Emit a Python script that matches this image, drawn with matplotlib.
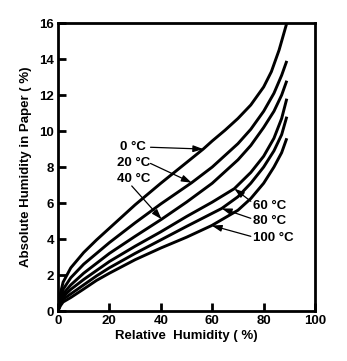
import matplotlib
matplotlib.use("Agg")
import matplotlib.pyplot as plt

plt.rcParams['font.family'] = ['Liberation Sans', 'DejaVu Sans']
plt.rcParams['font.weight'] = 'bold'

# relative humidity (%) and absolute humidity in paper (%) per temperature
rh_0 = [0, 1, 2, 5, 10, 15, 20, 30, 40, 50, 56.5, 60, 65, 70, 75, 80, 83, 86, 89]
ah_0 = [0, 1.0, 1.6, 2.4, 3.25, 3.95, 4.6, 5.9, 7.1, 8.25, 9.0, 9.45, 10.05, 10.7, 11.45, 12.45, 13.3, 14.5, 16.0]

rh_20 = [0, 1, 2, 5, 10, 15, 20, 30, 40, 52, 60, 70, 75, 80, 84, 87, 89]
ah_20 = [0, 0.75, 1.2, 1.85, 2.6, 3.2, 3.8, 4.9, 5.95, 7.13, 8.0, 9.3, 10.1, 11.1, 12.1, 13.1, 13.9]

rh_40 = [0, 1, 2, 5, 10, 15, 20, 30, 40.3, 50, 60, 70, 75, 80, 84, 87, 89]
ah_40 = [0, 0.6, 0.95, 1.45, 2.1, 2.65, 3.2, 4.15, 5.1, 6.05, 7.1, 8.4, 9.2, 10.2, 11.1, 12.0, 12.8]

rh_60 = [0, 1, 2, 5, 10, 15, 20, 30, 40, 50, 60, 68.6, 75, 80, 84, 87, 89]
ah_60 = [0, 0.5, 0.8, 1.2, 1.75, 2.25, 2.75, 3.6, 4.4, 5.25, 6.05, 6.8, 7.7, 8.6, 9.6, 10.7, 11.8]

rh_80 = [0, 1, 2, 5, 10, 15, 20, 30, 40, 50, 63.7, 70, 75, 80, 84, 87, 89]
ah_80 = [0, 0.4, 0.65, 0.95, 1.45, 1.95, 2.4, 3.2, 3.95, 4.7, 5.7, 6.35, 7.1, 8.0, 8.9, 9.8, 10.8]

rh_100 = [0, 1, 2, 5, 10, 15, 20, 30, 40, 50, 59.8, 70, 75, 80, 84, 87, 89]
ah_100 = [0, 0.3, 0.5, 0.75, 1.22, 1.7, 2.1, 2.85, 3.5, 4.1, 4.75, 5.6, 6.25, 7.1, 8.0, 8.8, 9.6]

curves = [(rh_0, ah_0), (rh_20, ah_20), (rh_40, ah_40),
          (rh_60, ah_60), (rh_80, ah_80), (rh_100, ah_100)]

labels = ["0 °C", "20 °C", "40 °C", "60 °C", "80 °C", "100 °C"]
label_xy = [(24.1, 9.1), (23.1, 8.2), (23.1, 7.35), (75.7, 5.85), (75.7, 5.0), (75.7, 4.05)]
arrow_from = [(36.0, 9.1), (36.0, 8.2), (28.7, 6.95), (75.0, 6.1), (75.0, 5.15), (75.0, 4.15)]
arrow_to = [(56.5, 9.0), (52.0, 7.13), (40.3, 5.1), (68.6, 6.8), (63.7, 5.7), (59.8, 4.75)]

fig = plt.figure(figsize=(3.47, 3.61), dpi=100)
ax = fig.add_axes([0.167, 0.1385, 0.741, 0.7975])

for x, y in curves:
    ax.plot(x, y, color="black", lw=2.1, solid_capstyle="butt", solid_joinstyle="round")

for lab, xy, a0, a1 in zip(labels, label_xy, arrow_from, arrow_to):
    ax.text(xy[0], xy[1], lab, fontsize=9.5, fontweight="bold", va="center", ha="left")
    ax.annotate("", xy=a1, xytext=a0,
                arrowprops=dict(arrowstyle="-|>,head_length=0.6,head_width=0.2",
                                color="black", lw=0.9, shrinkA=0, shrinkB=0))

ax.set_xlim(0, 100)
ax.set_ylim(0, 16)
ax.set_xticks(range(0, 101, 20))
ax.set_yticks(range(0, 17, 2))
ax.tick_params(direction="in", length=6, width=2, labelsize=9.5, pad=3)
for s in ax.spines.values():
    s.set_linewidth(2)
for t in ax.get_xticklabels() + ax.get_yticklabels():
    t.set_fontweight("bold")

ax.set_xlabel("Relative  Humidity ( %)", fontsize=9.5, fontweight="bold", labelpad=2)
ax.set_ylabel("Absolute Humidity in Paper ( %)", fontsize=9.5, fontweight="bold", labelpad=5)

fig.savefig("out.png", dpi=100)
